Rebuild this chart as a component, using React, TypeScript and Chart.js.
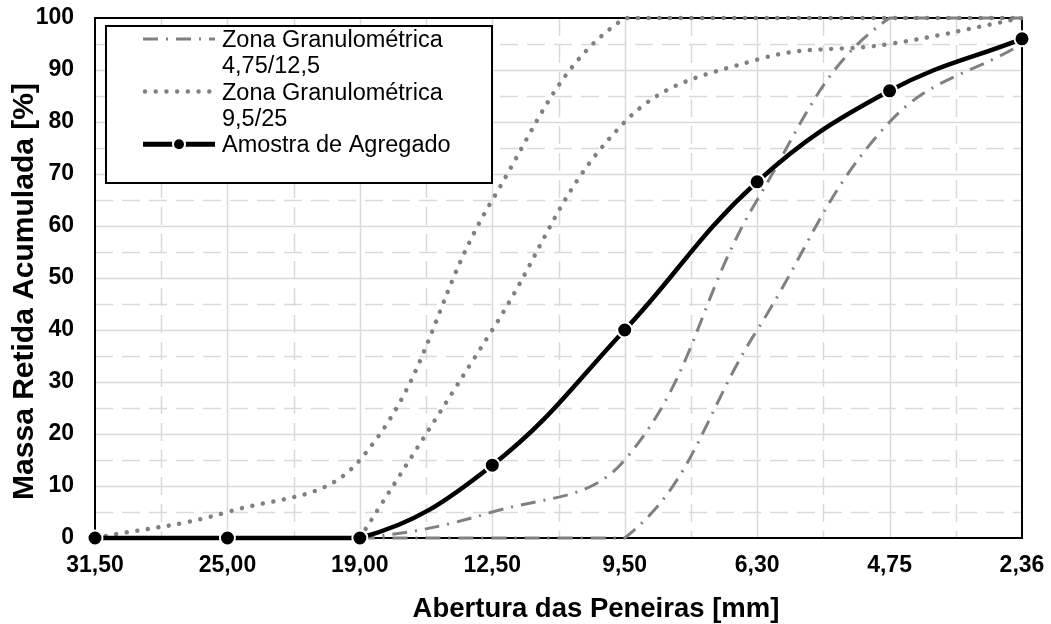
import React, { useEffect, useRef } from "react";
import { Chart, registerables } from "chart.js";

Chart.register(...registerables);

const sieveLabels = ["31,50", "25,00", "19,00", "12,50", "9,50", "6,30", "4,75", "2,36"];
const zoneFineUpper: (number | null)[] = [null, 0, 0, 5, 15, 65, 100, 100];
const zoneFineLower: (number | null)[] = [null, 0, 0, 0, 0, 40, 80, 95];
const zoneCoarseUpper: (number | null)[] = [0, 5, 15, 65, 100, 100, 100, 100];
const zoneCoarseLower: (number | null)[] = [null, null, 0, 40, 80, 92, 95, 100];
const sampleValues: number[] = [0, 0, 0, 14, 40, 68.5, 86, 96];
const legendFine = ["Zona Granulométrica", "4,75/12,5"];
const legendCoarse = ["Zona Granulométrica", "9,5/25"];
const legendSample = ["Amostra de Agregado"];
const xTitle = "Abertura das Peneiras [mm]";
const yTitle = "Massa Retida Acumulada [%]";

const FONT = '"Liberation Sans", Arial, Helvetica, sans-serif';
const GREY = "#808080";
const DASH_DOT = [15, 8, 2, 8];
const DOTS = [0.01, 10.7];

const toPoints = (arr: (number | null)[]) =>
  arr.map((y, i) => (y == null ? null : { x: i, y })).filter((p) => p !== null) as { x: number; y: number }[];

const decorPlugin = {
  id: "decor",
  beforeDatasetsDraw(chart: any) {
    const { ctx, chartArea, scales } = chart;
    const { left, right, top, bottom } = chartArea;
    const xs = scales.x;
    const ys = scales.y;
    ctx.save();
    ctx.strokeStyle = "#d9d9d9";
    ctx.lineWidth = 1.5;
    xs.ticks.forEach((t: any) => {
      const px = Math.round(xs.getPixelForValue(t.value)) + 0.5;
      if (t.value <= xs.min || t.value >= xs.max) return;
      ctx.setLineDash(Number.isInteger(t.value) ? [] : [18, 9]);
      ctx.beginPath();
      ctx.moveTo(px, top);
      ctx.lineTo(px, bottom);
      ctx.stroke();
    });
    ys.ticks.forEach((t: any) => {
      const py = Math.round(ys.getPixelForValue(t.value)) + 0.5;
      if (t.value <= ys.min || t.value >= ys.max) return;
      ctx.setLineDash(t.value % 10 === 0 ? [] : [18, 9]);
      ctx.beginPath();
      ctx.moveTo(left, py);
      ctx.lineTo(right, py);
      ctx.stroke();
    });
    ctx.setLineDash([]);
    ctx.strokeStyle = "#000";
    ctx.lineWidth = 2;
    ctx.strokeRect(left, top, right - left, bottom - top);
    ctx.restore();
  },
  afterDraw(chart: any) {
    const { ctx, chartArea } = chart;
    const { left, top } = chartArea;
    ctx.save();
    // Legend box
    const bx = left + 11;
    const by = top + 8;
    const bw = 386;
    const bh = 157;
    ctx.fillStyle = "#fff";
    ctx.fillRect(bx, by, bw, bh);
    ctx.strokeStyle = "#000";
    ctx.lineWidth = 2;
    ctx.strokeRect(bx, by, bw, bh);

    const sx0 = bx + 37;
    const sx1 = bx + 109;
    const tx = bx + 116;
    const lh = 26.3;
    const base0 = by + 21;
    ctx.font = `23.5px ${FONT}`;
    ctx.fillStyle = "#000";
    ctx.textAlign = "left";
    ctx.textBaseline = "alphabetic";
    const rows = [...legendFine, ...legendCoarse, ...legendSample];
    rows.forEach((txt, i) => ctx.fillText(txt, tx, base0 + i * lh));

    // dash-dot sample
    let ly = base0 - 8;
    ctx.strokeStyle = GREY;
    ctx.lineWidth = 3;
    ctx.setLineDash(DASH_DOT);
    ctx.beginPath();
    ctx.moveTo(sx0, ly);
    ctx.lineTo(sx1, ly);
    ctx.stroke();
    // dotted sample
    ly = base0 + 2 * lh - 8;
    ctx.lineWidth = 4.5;
    ctx.lineCap = "round";
    ctx.setLineDash(DOTS);
    ctx.beginPath();
    ctx.moveTo(sx0 + 2, ly);
    ctx.lineTo(sx1, ly);
    ctx.stroke();
    // sample line with marker
    ly = base0 + 4 * lh - 8;
    ctx.setLineDash([]);
    ctx.lineCap = "butt";
    ctx.strokeStyle = "#000";
    ctx.lineWidth = 5;
    ctx.beginPath();
    ctx.moveTo(sx0, ly);
    ctx.lineTo(sx1, ly);
    ctx.stroke();
    const mx = (sx0 + sx1) / 2;
    ctx.fillStyle = "#fff";
    ctx.beginPath();
    ctx.arc(mx, ly, 7, 0, Math.PI * 2);
    ctx.fill();
    ctx.fillStyle = "#000";
    ctx.beginPath();
    ctx.arc(mx, ly, 5, 0, Math.PI * 2);
    ctx.fill();

    // Axis titles
    ctx.fillStyle = "#000";
    ctx.font = `bold 27.5px ${FONT}`;
    ctx.textAlign = "center";
    ctx.textBaseline = "alphabetic";
    ctx.fillText(xTitle, 596, 617);
    ctx.save();
    ctx.translate(33, 291.5);
    ctx.rotate(-Math.PI / 2);
    ctx.font = `bold 30px ${FONT}`;
    ctx.fillText(yTitle, 0, 0);
    ctx.restore();
    ctx.restore();
  },
};

export default function App() {
  const canvasRef = useRef<HTMLCanvasElement | null>(null);

  useEffect(() => {
    document.body.style.margin = "0";
    const canvas = canvasRef.current;
    if (!canvas) return;
    const tickFont = { family: FONT, size: 23, weight: "bold" as const };
    const chart = new Chart(canvas, {
      type: "line",
      data: {
        datasets: [
          {
            label: legendSample[0],
            data: toPoints(sampleValues),
            borderColor: "#000",
            backgroundColor: "#000",
            borderWidth: 4.5,
            pointRadius: 7.5,
            pointBorderWidth: 2,
            pointBorderColor: "#fff",
            pointBackgroundColor: "#000",
            tension: 0.4,
            clip: 12,
          },
          {
            label: legendFine.join(" "),
            data: toPoints(zoneFineUpper),
            borderColor: GREY,
            borderWidth: 3,
            borderDash: DASH_DOT,
            pointRadius: 0,
            tension: 0.4,
            clip: 5,
          },
          {
            label: legendFine.join(" ") + " inf",
            data: toPoints(zoneFineLower),
            borderColor: GREY,
            borderWidth: 3,
            borderDash: DASH_DOT,
            pointRadius: 0,
            tension: 0.4,
            clip: 5,
          },
          {
            label: legendCoarse.join(" "),
            data: toPoints(zoneCoarseUpper),
            borderColor: GREY,
            borderWidth: 4.5,
            borderDash: DOTS,
            borderCapStyle: "round",
            pointRadius: 0,
            tension: 0.4,
            clip: 5,
          },
          {
            label: legendCoarse.join(" ") + " inf",
            data: toPoints(zoneCoarseLower),
            borderColor: GREY,
            borderWidth: 4.5,
            borderDash: DOTS,
            borderCapStyle: "round",
            pointRadius: 0,
            tension: 0.4,
            clip: 5,
          },
        ],
      },
      options: {
        responsive: false,
        animation: false,
        events: [],
        layout: { padding: { top: 18, right: 29, left: 0, bottom: 0 } },
        plugins: {
          legend: { display: false },
          tooltip: { enabled: false },
          title: { display: false },
        },
        scales: {
          x: {
            type: "linear",
            min: 0,
            max: sieveLabels.length - 1,
            grid: { display: false, drawTicks: true, tickLength: 14 },
            border: { display: false },
            ticks: {
              stepSize: 0.5,
              autoSkip: false,
              maxRotation: 0,
              minRotation: 0,
              padding: 0,
              color: "#000",
              font: tickFont,
              callback: (v: any) => (Number.isInteger(v) ? sieveLabels[v] : ""),
            },
            afterFit: (scale: any) => {
              scale.height = 86;
            },
          },
          y: {
            type: "linear",
            min: 0,
            max: 100,
            grid: { display: false, drawTicks: true, tickLength: 21 },
            border: { display: false },
            ticks: {
              stepSize: 5,
              autoSkip: false,
              padding: 0,
              color: "#000",
              font: tickFont,
              callback: (v: any) => (v % 10 === 0 ? String(v) : ""),
            },
            afterFit: (scale: any) => {
              scale.width = 95;
            },
          },
        },
      },
      plugins: [decorPlugin],
    } as any);
    return () => chart.destroy();
  }, []);

  return <canvas ref={canvasRef} width={1051} height={624} style={{ display: "block" }} />;
}
